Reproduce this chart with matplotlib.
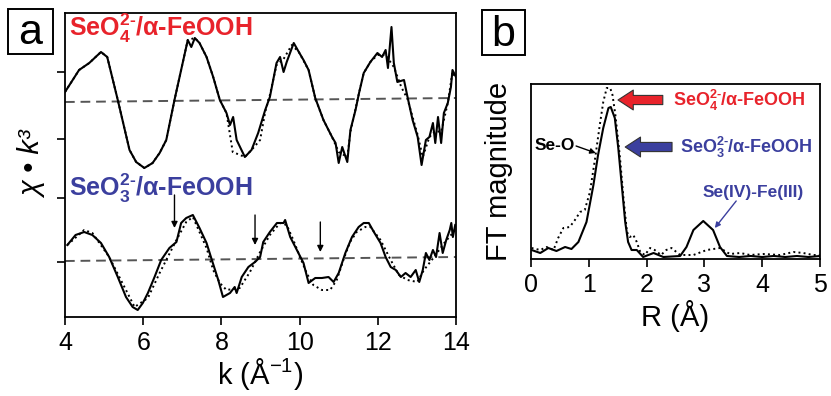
import matplotlib
matplotlib.use("Agg")
import matplotlib.pyplot as plt
from matplotlib.patches import Rectangle

plt.rcParams['font.family'] = ['Liberation Sans', 'DejaVu Sans']
plt.rcParams['mathtext.fontset'] = 'custom'
plt.rcParams['mathtext.rm'] = 'Liberation Sans:bold'
plt.rcParams['mathtext.bf'] = 'Liberation Sans:bold'
plt.rcParams['mathtext.it'] = 'Liberation Sans:italic:bold'

RED = '#e8232b'
BLUE = '#3b3f9e'

# ---------------- panel a data (chi*k^3, stacked, arbitrary units) ----------------
k_se4 = [4.0, 4.36, 4.62, 4.92, 5.08, 5.35, 5.65, 5.82, 6.03, 6.24, 6.42, 6.59, 6.80, 6.97,
         7.14, 7.23, 7.32, 7.44, 7.62, 7.79, 7.96, 8.13, 8.22, 8.30, 8.39, 8.60, 8.77, 8.94,
         9.12, 9.24, 9.41, 9.50, 9.59, 9.67, 9.85, 9.98, 10.10, 10.23, 10.40, 10.61, 10.83,
         10.92, 11.00, 11.09, 11.22, 11.30, 11.43, 11.52, 11.64, 11.81, 11.99, 12.11, 12.20,
         12.26, 12.35, 12.41, 12.50, 12.67, 12.76, 12.89, 13.02, 13.12, 13.23, 13.32, 13.41,
         13.47, 13.54, 13.62, 13.69, 13.79, 13.87, 13.91, 14.0]
chi_se4 = [225, 247, 254, 265, 260, 217, 167, 155, 149, 154, 164, 177, 217, 247,
           277, 270, 279, 274, 260, 240, 217, 204, 192, 200, 177, 160, 167, 184,
           207, 220, 254, 260, 245, 255, 274, 265, 257, 247, 219, 197, 180,
           174, 154, 170, 155, 187, 207, 224, 244, 255, 264, 260, 267,
           249, 290, 254, 235, 237, 220, 197, 180, 152, 177, 180, 194,
           174, 200, 174, 204, 214, 230, 247, 240]

k_se4_fit = [4.0, 4.36, 4.62, 4.92, 5.08, 5.35, 5.65, 5.82, 6.03, 6.24, 6.42, 6.59, 6.80,
             6.97, 7.14, 7.32, 7.44, 7.62, 7.79, 7.96, 8.13, 8.29, 8.60, 8.77, 8.99, 9.12,
             9.24, 9.41, 9.59, 9.80, 9.98, 10.23, 10.40, 10.61, 10.83, 11.0, 11.22, 11.30,
             11.52, 11.64, 11.81, 11.99, 12.2, 12.41, 12.6, 12.76, 13.02, 13.15, 13.32,
             13.47, 13.62, 13.79, 13.91, 14.0]
chi_se4_fit = [225, 247, 254, 265, 260, 217, 167, 155, 149, 154, 164, 177, 217,
               247, 277, 279, 274, 260, 240, 217, 204, 165, 160, 167, 177, 205,
               222, 252, 258, 272, 265, 247, 219, 197, 180, 165, 160, 185,
               224, 244, 255, 262, 262, 250, 230, 218, 182, 160, 180,
               186, 185, 214, 245, 238]

k_se3 = [4.06, 4.27, 4.49, 4.70, 4.92, 5.13, 5.35, 5.56, 5.73, 5.86, 5.99, 6.12, 6.29, 6.46,
         6.67, 6.85, 6.97, 7.10, 7.27, 7.44, 7.62, 7.74, 7.92, 8.04, 8.22, 8.34, 8.39, 8.52,
         8.69, 8.86, 8.99, 9.07, 9.24, 9.42, 9.59, 9.63, 9.76, 9.93, 10.10, 10.23, 10.40,
         10.57, 10.74, 10.87, 11.00, 11.17, 11.34, 11.51, 11.64, 11.77, 11.90, 12.07, 12.20,
         12.33, 12.46, 12.59, 12.71, 12.84, 12.97, 13.06, 13.15, 13.23, 13.32, 13.41, 13.49,
         13.58, 13.66, 13.75, 13.84, 13.88, 13.92, 13.98]
chi_se3 = [72, 82, 85, 82, 74, 60, 40, 20, 10, 7, 14, 24, 40, 57,
           69, 75, 94, 99, 102, 89, 74, 59, 37, 20, 24, 30, 24, 40,
           50, 55, 60, 75, 85, 94, 94, 97, 80, 67, 54, 34, 39,
           39, 40, 35, 44, 64, 80, 90, 94, 94, 85, 74, 60,
           50, 47, 40, 44, 40, 47, 35, 47, 64, 57, 67, 60,
           84, 64, 77, 87, 94, 80, 92]

k_se3_fit = [4.06, 4.49, 4.70, 5.13, 5.78, 6.12, 6.42, 6.85, 7.10, 7.27, 7.62, 7.79, 7.96,
             8.13, 8.47, 8.73, 8.99, 9.24, 9.50, 9.67, 9.84, 10.01, 10.18, 10.35, 10.57,
             10.78, 10.95, 11.12, 11.29, 11.46, 11.68, 11.81, 12.07, 12.33, 12.54, 12.76,
             13.01, 13.18, 13.44, 13.70, 13.98]
chi_se3_fit = [72, 87, 84, 60, 10, 19, 44, 77, 95, 100, 69, 47, 34,
               27, 29, 45, 65, 82, 94, 92, 77, 60, 44, 32, 27,
               27, 37, 57, 75, 85, 90, 90, 77, 57, 42, 37,
               35, 47, 60, 74, 87]

base_k = [4.0, 14.0]
base_top = [215, 219]
base_bot = [56, 60]

arrow_k = [6.80, 8.86, 10.53]
arrow_y_start = [122, 102, 95]
arrow_y_end = [89, 72, 65]

a_yticks = [55, 119, 178, 245]
a_xticks = [4, 6, 8, 10, 12, 14]

# ---------------- panel b data (FT magnitude) ----------------
R_se3 = [0.01, 0.16, 0.30, 0.44, 0.59, 0.70, 0.82, 0.96, 1.08, 1.16, 1.25, 1.34, 1.38, 1.45,
         1.51, 1.57, 1.63, 1.68, 1.74, 1.83, 1.94, 2.12, 2.29, 2.58, 2.69, 2.81, 2.98,
         3.15, 3.27, 3.39, 3.6, 3.8, 4.0, 4.2, 4.4, 4.6, 4.8, 5.0]
ft_se3 = [9, 6, 11, 8, 12, 10, 17, 37, 74, 104, 131, 151, 152, 141,
          111, 74, 37, 17, 9, 9, 2, 6, 2, 3, 12, 29, 38,
          29, 12, 3, 2, 3, 2, 3, 2, 3, 2, 3]

R_se4 = [0.01, 0.16, 0.27, 0.39, 0.47, 0.56, 0.67, 0.76, 0.85, 0.93, 1.02, 1.11, 1.19, 1.25,
         1.31, 1.37, 1.41, 1.46, 1.54, 1.60, 1.66, 1.71, 1.77, 1.83, 1.89, 1.97, 2.06,
         2.14, 2.25, 2.34, 2.43, 2.58, 2.81, 3.04, 3.27, 3.44, 3.62, 3.79, 4.02, 4.31,
         4.54, 4.71, 4.88, 5.0]
ft_se4 = [11, 9, 12, 9, 21, 31, 32, 39, 47, 49, 67, 101, 134, 157,
          171, 171, 164, 144, 101, 61, 27, 22, 24, 17, 7, 4, 11,
          9, 4, 9, 11, 4, 4, 9, 11, 5, 6, 4, 5, 4,
          7, 6, 4, 4]

b_xticks = [0, 1, 2, 3, 4, 5]

# ---------------- figure ----------------
fig = plt.figure(figsize=(8.31, 3.96), dpi=100)

# panel a
axa = fig.add_axes([65 / 831, 1 - 317 / 396, 391 / 831, 304 / 396])
axa.plot(base_k, base_top, color='#555555', lw=1.4, dashes=(5, 3))
axa.plot(base_k, base_bot, color='#555555', lw=1.4, dashes=(5, 3))
axa.plot(k_se4_fit, chi_se4_fit, color='black', lw=1.4, ls=':')
axa.plot(k_se4, chi_se4, color='black', lw=1.5)
axa.plot(k_se3_fit, chi_se3_fit, color='black', lw=1.4, ls=':')
axa.plot(k_se3, chi_se3, color='black', lw=1.5)
for kx, y0, y1 in zip(arrow_k, arrow_y_start, arrow_y_end):
    axa.annotate('', xy=(kx, y1), xytext=(kx, y0),
                 arrowprops=dict(arrowstyle='-|>', color='black', lw=1.0,
                                 mutation_scale=9, shrinkA=0, shrinkB=0))
axa.set_xlim(4, 14)
axa.set_ylim(0, 304)
axa.set_xticks(a_xticks)
axa.set_yticks(a_yticks)
axa.set_yticklabels([])
axa.tick_params(axis='both', direction='out', length=6, width=1.2, labelsize=18, pad=3)
axa.tick_params(axis='x', pad=4)
for s in axa.spines.values():
    s.set_linewidth(1.3)
axa.set_xlabel(r'k (Å$^{\mathregular{-1}}$)', fontsize=21, labelpad=1)
axa.set_ylabel('χ • k³', fontsize=21, fontstyle='italic', labelpad=4)
axa.text(4.1, 289, r'SeO$_{4}^{2\text{-}}$/α-FeOOH', color=RED, fontsize=18,
         fontweight='bold', va='center', ha='left')
axa.text(4.1, 129, r'SeO$_{3}^{2\text{-}}$/α-FeOOH', color=BLUE, fontsize=18,
         fontweight='bold', va='center', ha='left')

# panel b
axb = fig.add_axes([531 / 831, 1 - 259 / 396, 289 / 831, 175 / 396])
axb.plot(R_se4, ft_se4, color='black', lw=1.4, ls=':')
axb.plot(R_se3, ft_se3, color='black', lw=1.5)
axb.set_xlim(0, 5)
axb.set_ylim(0, 175)
axb.set_xticks(b_xticks)
axb.set_yticks([])
axb.tick_params(axis='x', direction='out', length=6, width=1.2, labelsize=18, pad=4)
for s in axb.spines.values():
    s.set_linewidth(1.3)
axb.set_xlabel('R (Å)', fontsize=21, labelpad=2)
axb.set_ylabel('FT magnitude', fontsize=21, labelpad=13)

arrow_style = 'simple,head_width=1.3,head_length=1.0,tail_width=0.6'
axb.annotate('', xy=(1.505, 159), xytext=(2.28, 159),
             arrowprops=dict(arrowstyle=arrow_style, fc=RED, ec='#333333', lw=0.8,
                             mutation_scale=11, shrinkA=0, shrinkB=0))
axb.annotate('', xy=(1.63, 112), xytext=(2.44, 112),
             arrowprops=dict(arrowstyle=arrow_style, fc=BLUE, ec='#333333', lw=0.8,
                             mutation_scale=11, shrinkA=0, shrinkB=0))
axb.text(2.46, 159, r'SeO$_{4}^{2\text{-}}$/α-FeOOH', color=RED, fontsize=13,
         fontweight='bold', va='center', ha='left')
axb.text(2.58, 112, r'SeO$_{3}^{2\text{-}}$/α-FeOOH', color=BLUE, fontsize=13,
         fontweight='bold', va='center', ha='left')
axb.text(2.96, 66, 'Se(IV)-Fe(III)', color=BLUE, fontsize=12.5,
         fontweight='bold', va='center', ha='left')
axb.annotate('', xy=(3.18, 31), xytext=(3.55, 58),
             arrowprops=dict(arrowstyle='-|>', color=BLUE, lw=1.0,
                             mutation_scale=8, shrinkA=0, shrinkB=0))
axb.text(0.07, 114, 'Se-O', color='black', fontsize=12.5,
         fontweight='bold', va='center', ha='left')
axb.annotate('', xy=(1.12, 106), xytext=(0.78, 113),
             arrowprops=dict(arrowstyle='-|>', color='black', lw=1.0,
                             mutation_scale=8, shrinkA=0, shrinkB=0))

# panel letters
for (x0, y0, w, h, letter) in [(8, 9, 45, 45, 'a'), (482, 10, 43, 45, 'b')]:
    fig.patches.append(Rectangle((x0 / 831, 1 - (y0 + h) / 396), w / 831, h / 396,
                                 transform=fig.transFigure, fill=False,
                                 edgecolor='black', lw=1.4))
    fig.text((x0 + w / 2) / 831, 1 - (y0 + h / 2 + 2) / 396, letter, fontsize=31,
             ha='center', va='center')

fig.savefig('out.png', dpi=100)
